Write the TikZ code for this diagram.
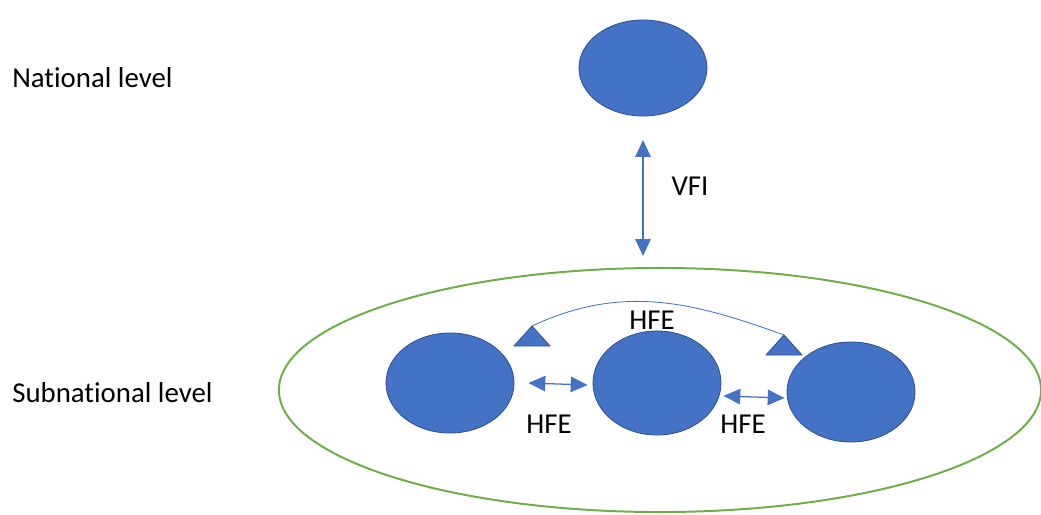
\documentclass[tikz,border=0pt]{standalone}
\usepackage{fontspec}
\setmainfont[Ligatures=NoCommon]{Carlito}
\usetikzlibrary{arrows.meta,positioning,shapes.geometric,calc}
\definecolor{LvlBlue}{HTML}{4472C4}
\definecolor{LvlEdge}{HTML}{2F528F}
\definecolor{LvlGreen}{HTML}{70AD47}

\begin{document}
\begin{tikzpicture}[
  x=0.025cm, y=-0.025cm,
  gov/.style={ellipse, draw=LvlEdge, fill=LvlBlue, line width=0.6pt, inner sep=0pt},
  flow/.style={{Triangle[length=12pt,width=11pt]}-{Triangle[length=12pt,width=11pt]},
               color=LvlBlue, line width=0.9pt},
  lbl/.style={font=\fontsize{20.5}{24}\selectfont, inner sep=0pt},
  tip/.style={fill=LvlBlue, draw=LvlEdge, line width=0.6pt, line join=round}
]
\useasboundingbox (0,0) rectangle (1041,514);

% Level captions
\node[lbl, anchor=west] (natl) at (12,78) {National level};
\node[lbl, anchor=west] (subn) at (12,393) {Subnational level};

% National government
\node[gov, minimum width=3.2cm, minimum height=2.4cm] (nat) at (643,68) {};

% Subnational region
\node[ellipse, draw=LvlGreen, line width=1.4pt, minimum width=19.05cm,
      minimum height=6.1cm, inner sep=0pt] (region) at (660,390) {};

% Subnational governments
\node[gov, minimum width=3.2cm, minimum height=2.5cm] (s1) at (450,383) {};
\node[gov, minimum width=3.2cm, minimum height=2.6cm] (s2) at (657,383) {};
\node[gov, minimum width=3.2cm, minimum height=2.5cm] (s3) at (851,392) {};

% Vertical fiscal imbalance
\coordinate (vtop) at (643,140);
\coordinate (vbot) at (643,256);
\draw[flow] (vtop) -- (vbot);
\node[lbl] (vfi) at (690,186) {VFI};

% Horizontal fiscal equalisation between neighbours
\draw[flow] ($(s1.east)+(14,0)$) -- ($(s2.west)+(-5,2)$);
\draw[flow] ($(s2.east)+(2,13)$) -- ($(s3.west)+(-2,6)$);
\node[lbl] (hfe1) at (549,424) {HFE};
\node[lbl] (hfe2) at (743,424) {HFE};

% Equalisation across the region
\coordinate (t1) at (532,326);
\coordinate (t2) at (784,335);
\draw[LvlBlue, line width=0.6pt] (t1) to[out=25, in=160] (t2);
\draw[tip] (t1) -- ++(18,20) -- ++(-36,0) -- cycle;
\draw[tip] (t2) -- ++(18,20) -- ++(-36,0) -- cycle;
\node[lbl] (hfe3) at (652,320) {HFE};
\end{tikzpicture}
\end{document}
